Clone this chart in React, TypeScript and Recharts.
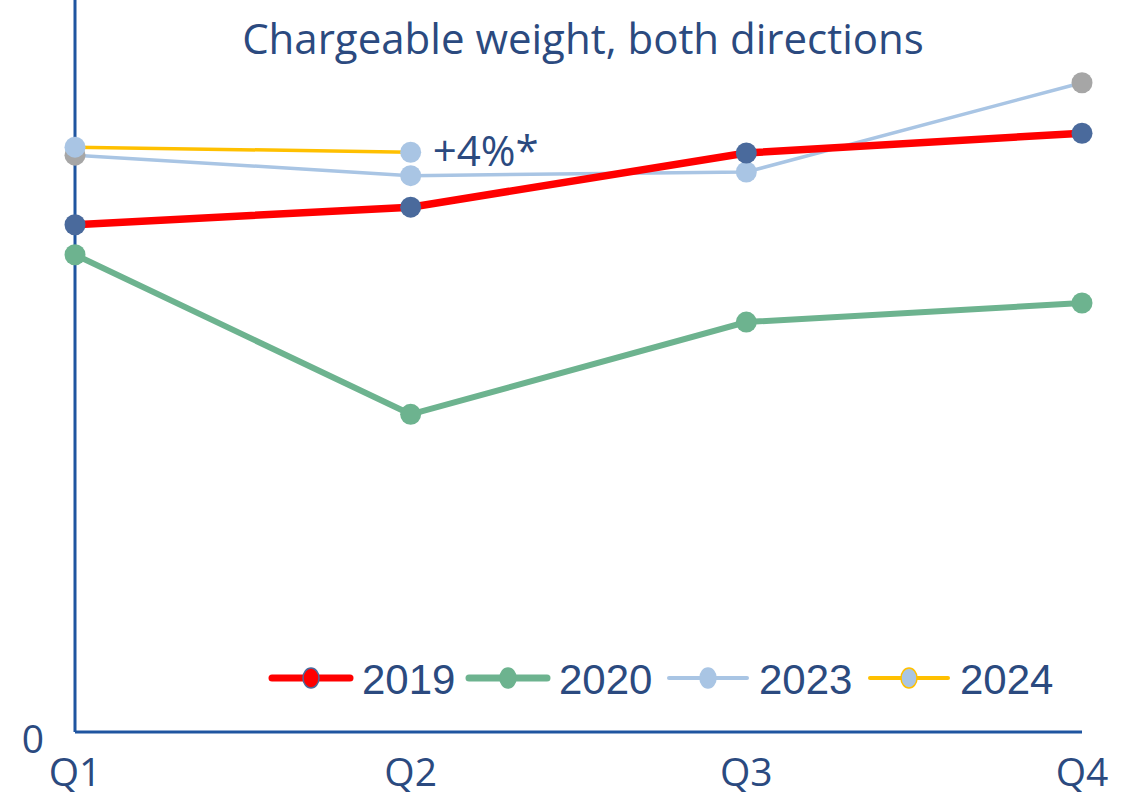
import React from "react";
import { LineChart, Line, XAxis, YAxis, Customized } from "recharts";

const quarters = ["Q1", "Q2", "Q3", "Q4"];
const s2019 = [69.3, 71.7, 79.1, 81.8];
const s2020 = [65.2, 43.4, 56.0, 58.6];
const s2023 = [78.8, 76.0, 76.5, 88.7];
const s2024: (number | null)[] = [79.9, 79.2, null, null];
const yTicks = [0];
const seriesNames = ["2019", "2020", "2023", "2024"];
const titleText = "Chargeable weight, both directions";
const noteText = "+4%*";

const data = quarters.map((q, i) => ({
  q,
  y2019: s2019[i],
  y2020: s2020[i],
  y2023: s2023[i],
  y2024: s2024[i],
}));

const TEXT = "#2B4A7F";
const AXIS = "#1F55A0";
const RED = "#FF0000";
const GREEN = "#6DB38F";
const LBLUE = "#A9C5E4";
const GOLD = "#FFC000";
const DARK = "#4A6A9C";
const GRAY = "#A6A6A6";
const FONT = "'Open Sans', sans-serif";

const dot = (fill: string, fill2?: (i: number) => string) => (p: any) => {
  if (p.cx == null || p.cy == null || p.value == null) return <g key={p.index} />;
  return <circle key={p.index} cx={p.cx} cy={p.cy} r={10.5} fill={fill2 ? fill2(p.index) : fill} />;
};

const XTick = (p: any) => (
  <text x={p.x} y={p.y + 46} textAnchor="middle" fontSize={39} fill={TEXT} fontFamily={FONT}>
    {p.payload.value}
  </text>
);
const YTick = (p: any) => (
  <text x={33} y={p.y + 21} textAnchor="middle" fontSize={39} fill={TEXT} fontFamily={FONT}>
    {p.payload.value}
  </text>
);

const NoteLabel = (p: any) => {
  if (p.index !== 1) return null;
  return (
    <text x={p.x + 22} y={p.y + 14} fontSize={42} fill={TEXT} fontFamily={FONT}>
      {noteText}
    </text>
  );
};

const legendItems = [
  { name: seriesNames[0], line: RED, lw: 7, fill: RED, stroke: DARK },
  { name: seriesNames[1], line: GREEN, lw: 7, fill: GREEN, stroke: GREEN },
  { name: seriesNames[2], line: LBLUE, lw: 4, fill: LBLUE, stroke: LBLUE },
  { name: seriesNames[3], line: GOLD, lw: 4, fill: LBLUE, stroke: GOLD },
];
const legendX = [272, 469, 669, 870];

const LegendGroup = () => (
  <g>
    {legendItems.map((it, i) => {
      const x0 = legendX[i];
      const cy = 678;
      return (
        <g key={it.name}>
          <line x1={x0} x2={x0 + 78} y1={cy} y2={cy} stroke={it.line} strokeWidth={it.lw} strokeLinecap="round" />
          <ellipse cx={x0 + 39} cy={cy} rx={8} ry={10} fill={it.fill} stroke={it.stroke} strokeWidth={1.5} />
          <text x={x0 + 90} y={cy + 16} fontSize={42} fill={TEXT} fontFamily="'Liberation Sans', Arial, sans-serif">
            {it.name}
          </text>
        </g>
      );
    })}
  </g>
);

const Title = () => (
  <text x={583} y={54} textAnchor="middle" fontSize={42} fill={TEXT} fontFamily={FONT}>
    {titleText}
  </text>
);

export default function App() {
  return (
    <div style={{ position: "absolute", left: 0, top: 0, background: "#fff" }}>
      <LineChart width={1137} height={799} data={data} margin={{ top: 0, right: 55, bottom: 0, left: 0 }}>
        <XAxis dataKey="q" axisLine={{ stroke: AXIS, strokeWidth: 3 }} tickLine={false} tick={<XTick />} height={67} interval={0} />
        <YAxis domain={[0, 100]} ticks={yTicks} width={75} axisLine={{ stroke: AXIS, strokeWidth: 3 }} tickLine={false} tick={<YTick />} />
        <Line dataKey="y2020" stroke={GREEN} strokeWidth={6} dot={dot(GREEN)} activeDot={false} isAnimationActive={false} />
        <Line dataKey="y2023" stroke={LBLUE} strokeWidth={3.5} dot={dot(LBLUE, (i) => (i === 0 || i === 3 ? GRAY : LBLUE))} activeDot={false} isAnimationActive={false} />
        <Line dataKey="y2024" stroke={GOLD} strokeWidth={3.5} dot={dot(LBLUE)} activeDot={false} isAnimationActive={false} label={<NoteLabel />} />
        <Line dataKey="y2019" stroke={RED} strokeWidth={7.5} dot={dot(DARK)} activeDot={false} isAnimationActive={false} />
        <Customized component={<LegendGroup />} />
        <Customized component={<Title />} />
      </LineChart>
    </div>
  );
}
